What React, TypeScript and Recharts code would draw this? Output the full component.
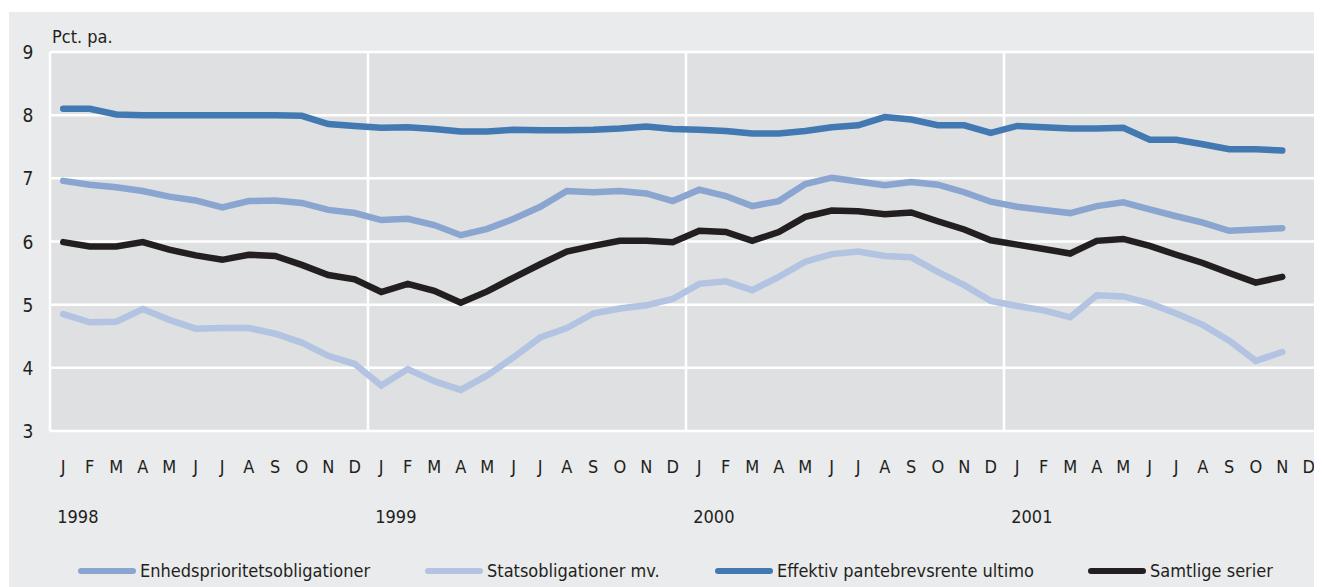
import React from "react";
import {
  LineChart,
  Line,
  XAxis,
  YAxis,
  CartesianGrid,
  ReferenceLine,
  Legend,
} from "recharts";

const MONTHS = ["J", "F", "M", "A", "M", "J", "J", "A", "S", "O", "N", "D"];
const YEARS = ["1998", "1999", "2000", "2001"];
const Y_TICKS = [3, 4, 5, 6, 7, 8, 9];

// monthly, Jan 1998 - Nov 2001
const enheds = [
  6.96, 6.9, 6.86, 6.8, 6.71, 6.65, 6.54, 6.64, 6.65, 6.61, 6.5, 6.45,
  6.34, 6.36, 6.26, 6.1, 6.2, 6.36, 6.55, 6.8, 6.78, 6.8, 6.76, 6.64,
  6.82, 6.72, 6.56, 6.64, 6.91, 7.01, 6.95, 6.89, 6.94, 6.9, 6.78, 6.63,
  6.55, 6.5, 6.45, 6.56, 6.62, 6.51, 6.4, 6.3, 6.17, 6.19, 6.21,
];
const stats = [
  4.85, 4.72, 4.73, 4.93, 4.76, 4.62, 4.63, 4.63, 4.54, 4.4, 4.19, 4.06,
  3.72, 3.98, 3.79, 3.65, 3.88, 4.17, 4.48, 4.63, 4.86, 4.94, 4.99, 5.09,
  5.33, 5.37, 5.23, 5.44, 5.68, 5.8, 5.84, 5.77, 5.75, 5.52, 5.31, 5.06,
  4.98, 4.91, 4.8, 5.15, 5.13, 5.02, 4.86, 4.68, 4.43, 4.11, 4.25,
];
const effektiv = [
  8.1, 8.1, 8.01, 8.0, 8.0, 8.0, 8.0, 8.0, 8.0, 7.99, 7.86, 7.83,
  7.8, 7.81, 7.78, 7.74, 7.74, 7.77, 7.76, 7.76, 7.77, 7.79, 7.82, 7.78,
  7.77, 7.75, 7.71, 7.71, 7.75, 7.81, 7.84, 7.97, 7.93, 7.84, 7.84, 7.72,
  7.83, 7.81, 7.79, 7.79, 7.8, 7.61, 7.61, 7.54, 7.46, 7.46, 7.44,
];
const samtlige = [
  5.99, 5.92, 5.92, 5.99, 5.87, 5.78, 5.71, 5.79, 5.77, 5.63, 5.47, 5.4,
  5.2, 5.33, 5.22, 5.03, 5.21, 5.43, 5.64, 5.84, 5.93, 6.01, 6.01, 5.99,
  6.17, 6.15, 6.01, 6.15, 6.39, 6.49, 6.48, 6.43, 6.46, 6.32, 6.19, 6.02,
  5.95, 5.88, 5.81, 6.01, 6.04, 5.93, 5.79, 5.66, 5.5, 5.35, 5.44,
];

const SERIES = [
  { key: "enheds", name: "Enhedsprioritetsobligationer", color: "#8aa6d0" },
  { key: "stats", name: "Statsobligationer mv.", color: "#b2c4e2" },
  { key: "effektiv", name: "Effektiv pantebrevsrente ultimo", color: "#4279b3" },
  { key: "samtlige", name: "Samtlige serier", color: "#231f20" },
];

const FONT = "'Liberation Sans Narrow', 'DejaVu Sans Condensed', 'Open Sans', sans-serif";

const nMonths = MONTHS.length * YEARS.length;
const chartData = Array.from({ length: nMonths }, (_, i) => ({
  x: i + 0.5,
  enheds: enheds[i] ?? null,
  stats: stats[i] ?? null,
  effektiv: effektiv[i] ?? null,
  samtlige: samtlige[i] ?? null,
}));
const monthTicks = chartData.map((d) => d.x);

const MonthTick = (props: any) => {
  const { x, y, payload } = props;
  const i = Math.round(payload.value - 0.5);
  return (
    <g>
      <text x={x} y={y + 34} textAnchor="middle" fontSize={18} fill="#231f20" fontFamily={FONT}>
        {MONTHS[i % 12]}
      </text>
      {i % 12 === 0 && (
        <text x={x - 6} y={y + 84} textAnchor="start" fontSize={18} fill="#231f20" fontFamily={FONT}>
          {YEARS[i / 12]}
        </text>
      )}
    </g>
  );
};

const ValueTick = (props: any) => {
  const { x, y, payload } = props;
  return (
    <text x={x - 14} y={y + 7} textAnchor="middle" fontSize={19} fill="#231f20" fontFamily={FONT}>
      {payload.value}
    </text>
  );
};

const LEGEND_WIDTHS = [347, 290, 373, 200];

const renderLegend = () => (
  <div style={{ display: "flex", paddingLeft: 69, fontFamily: FONT, fontSize: 18, color: "#231f20" }}>
    {SERIES.map((s, i) => (
      <div key={s.key} style={{ display: "flex", alignItems: "center", width: LEGEND_WIDTHS[i] }}>
        <span
          style={{
            display: "inline-block",
            width: 58,
            height: 6,
            borderRadius: 3,
            background: s.color,
            marginRight: 4,
          }}
        />
        <span>{s.name}</span>
      </div>
    ))}
  </div>
);

export default function App() {
  return (
    <div
      style={{
        position: "relative",
        width: 1313,
        height: 575,
        marginLeft: 1,
        marginTop: 4,
        background: "#eaebec",
      }}
    >
      <div
        style={{
          position: "absolute",
          left: 43,
          top: 14,
          fontFamily: FONT,
          fontSize: 18,
          color: "#231f20",
        }}
      >
        Pct. pa.
      </div>
      <LineChart
        width={1313}
        height={575}
        data={chartData}
        margin={{ top: 40, right: 0, left: 0, bottom: 6 }}
      >
        <CartesianGrid
          fill="#dfe0e1"
          stroke="#ffffff"
          strokeWidth={2.5}
          vertical={false}
        />
        <XAxis
          dataKey="x"
          type="number"
          domain={[0, nMonths]}
          ticks={monthTicks}
          tick={<MonthTick />}
          interval={0}
          axisLine={false}
          tickLine={false}
          height={129}
        />
        <YAxis
          domain={[3, 9]}
          ticks={Y_TICKS}
          tick={<ValueTick />}
          axisLine={false}
          tickLine={false}
          width={41}
        />
        {[0, 12, 24, 36, 48].map((v) => (
          <ReferenceLine key={v} x={v} stroke="#ffffff" strokeWidth={2.5} />
        ))}
        <Legend verticalAlign="bottom" content={renderLegend} />
        {SERIES.map((s) => (
          <Line
            key={s.key}
            type="linear"
            dataKey={s.key}
            name={s.name}
            stroke={s.color}
            strokeWidth={6.5}
            strokeLinecap="round"
            dot={false}
            activeDot={false}
            isAnimationActive={false}
          />
        ))}
      </LineChart>
    </div>
  );
}
